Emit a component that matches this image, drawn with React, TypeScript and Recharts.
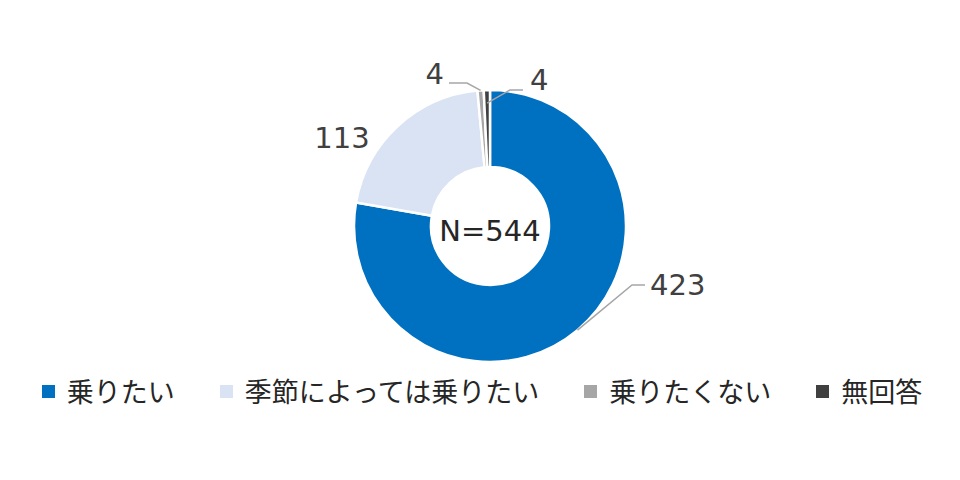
import { Cell, Legend, Pie, PieChart } from 'recharts';

const categories = ['乗りたい', '季節によっては乗りたい', '乗りたくない', '無回答'];
const counts = [423, 113, 4, 4];
const colors = ['#0070C0', '#DAE3F3', '#A6A6A6', '#404040'];
const totalLabel = 'N=544';

const chartData = categories.map((name, i) => ({ name, value: counts[i] }));

// label placement relative to the pie centre, one entry per slice
type LabelSpot = { tx: number; ty: number; anchor: 'start' | 'middle' | 'end'; r?: number; knee?: [number, number]; end?: [number, number] };
const labelSpots: LabelSpot[] = [
  { tx: 160, ty: 59, anchor: 'start', r: 136, knee: [142, 59], end: [155, 59] },
  { tx: -148, ty: -88, anchor: 'middle' },
  { tx: -46, ty: -152, anchor: 'end', r: 136, knee: [-23, -143], end: [-41, -143] },
  { tx: 40, ty: -146, anchor: 'start', r: 123, knee: [20, -136], end: [33, -136] },
];

const RAD = Math.PI / 180;

function renderLabel(props: any) {
  const { cx, cy, midAngle, index, value } = props;
  const spot = labelSpots[index];
  let line = null;
  if (spot.r && spot.knee && spot.end) {
    const sx = cx + spot.r * Math.cos(-midAngle * RAD);
    const sy = cy + spot.r * Math.sin(-midAngle * RAD);
    const pts = `${sx},${sy} ${cx + spot.knee[0]},${cy + spot.knee[1]} ${cx + spot.end[0]},${cy + spot.end[1]}`;
    line = <polyline points={pts} fill="none" stroke="#A6A6A6" strokeWidth={1.5} />;
  }
  return (
    <g key={`lbl-${index}`}>
      {line}
      <text
        x={cx + spot.tx}
        y={cy + spot.ty}
        textAnchor={spot.anchor}
        dominantBaseline="central"
        fontSize={29}
        fontFamily="'DejaVu Sans', sans-serif"
        fill="#404040"
      >
        {value}
      </text>
    </g>
  );
}

function LegendRow() {
  return (
    <div style={{ display: 'flex', justifyContent: 'center', gap: 45, fontFamily: "'Noto Sans CJK JP', sans-serif", fontSize: 27, color: '#262626' }}>
      {categories.map((name, i) => (
        <div key={name} style={{ display: 'flex', alignItems: 'center', gap: 12 }}>
          <span style={{ width: 13, height: 13, background: colors[i], display: 'inline-block' }} />
          <span style={{ lineHeight: '30px' }}>{name}</span>
        </div>
      ))}
    </div>
  );
}

export default function App() {
  return (
    <div style={{ position: 'absolute', left: 0, top: 0, width: 960, height: 480, background: '#fff' }}>
      <PieChart width={960} height={480} margin={{ top: 0, right: 0, bottom: 0, left: 0 }}>
        <Pie
          data={chartData}
          dataKey="value"
          nameKey="name"
          cx={490}
          cy={226}
          innerRadius={59}
          outerRadius={136}
          startAngle={90}
          endAngle={-270}
          stroke="#fff"
          strokeWidth={2.5}
          label={renderLabel}
          labelLine={false}
          isAnimationActive={false}
        >
          {chartData.map((d, i) => (
            <Cell key={d.name} fill={colors[i]} />
          ))}
        </Pie>
        <text x={490} y={231} textAnchor="middle" dominantBaseline="central" fontSize={29} fontFamily="'DejaVu Sans', sans-serif" fill="#262626">
          {totalLabel}
        </text>
        <Legend content={<LegendRow />} wrapperStyle={{ top: 376, left: 2, width: 960 }} />
      </PieChart>
    </div>
  );
}
